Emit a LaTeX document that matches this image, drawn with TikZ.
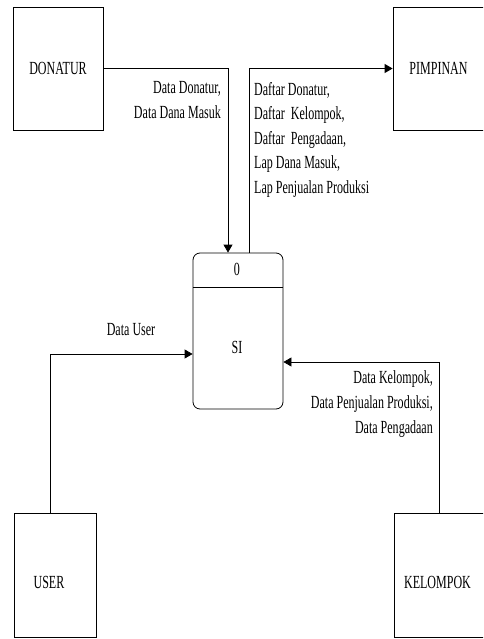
\documentclass[tikz,border=0pt]{standalone}
\usepackage{fontspec}
\setmainfont{Liberation Serif}[FakeStretch=0.65]
\usetikzlibrary{arrows.meta}
\begin{document}
\begin{tikzpicture}[x=1pt,y=-1pt,
  txt/.style={font=\fontsize{18.5}{25}\selectfont, inner sep=0pt},
  ent/.style={draw=black, line width=0.8pt, inner sep=0pt, txt},
  flow/.style={draw=black, line width=0.8pt, -{Triangle[length=8pt,width=9pt]}},
]
\useasboundingbox (0,0) rectangle (483,639);
\fill[white] (0,0) rectangle (483,639);
\begin{scope}
\clip (0,0) rectangle (483,639);
% entities
\node[ent, minimum width=90pt, minimum height=123pt] (DONATUR) at (58,68.5) {DONATUR};
\node[ent, minimum width=91pt, minimum height=123pt] (PIMPINAN) at (438.5,68.5) {PIMPINAN};
\node[ent, minimum width=82pt, minimum height=124pt] (USER) at (55,575) {};
\node[ent, minimum width=90pt, minimum height=124pt] (KELOMPOK) at (439,575) {};
\node[txt] (userlbl) at (49,582) {USER};
\node[txt] (kellbl) at (437.5,582) {KELOMPOK};
% process
\node[draw=black, line width=0.8pt, rounded corners=7pt, minimum width=90pt, minimum height=156pt, inner sep=0pt] (SI) at (238,331) {};
\coordinate (divl) at (193,287);
\coordinate (divr) at (283,287);
\draw[line width=0.8pt] (divl) -- (divr);
\node[txt] (pnum) at (237,269) {0};
\node[txt] (pname) at (237,347) {SI};
% flows
\draw[flow] (DONATUR.east) -| ([xshift=-10pt]SI.north);
\draw[flow] ([xshift=11pt]SI.north) |- (PIMPINAN.west);
\draw[flow] ([xshift=-5pt]USER.north) |- ([yshift=-23pt]SI.west);
\draw[flow] (KELOMPOK.north) |- ([yshift=-31pt]SI.east);
% labels
\node[txt, anchor=north east, align=right] (lblDon) at (221,80.7) {Data Donatur,\\Data Dana Masuk};
\node[txt, anchor=north west, align=left, font=\fontsize{18.5}{24.5}\selectfont] (lblPim) at (254,82) {Daftar Donatur,\\Daftar\ \ Kelompok,\\Daftar\ \ Pengadaan,\\Lap Dana Masuk,\\Lap Penjualan Produksi};
\node[txt, anchor=base] (lblUser) at (131,335) {Data User};
\node[txt, anchor=north east, align=right] (lblKel) at (433,370.5) {Data Kelompok,\\Data Penjualan Produksi,\\Data Pengadaan};
\end{scope}
\end{tikzpicture}
\end{document}
